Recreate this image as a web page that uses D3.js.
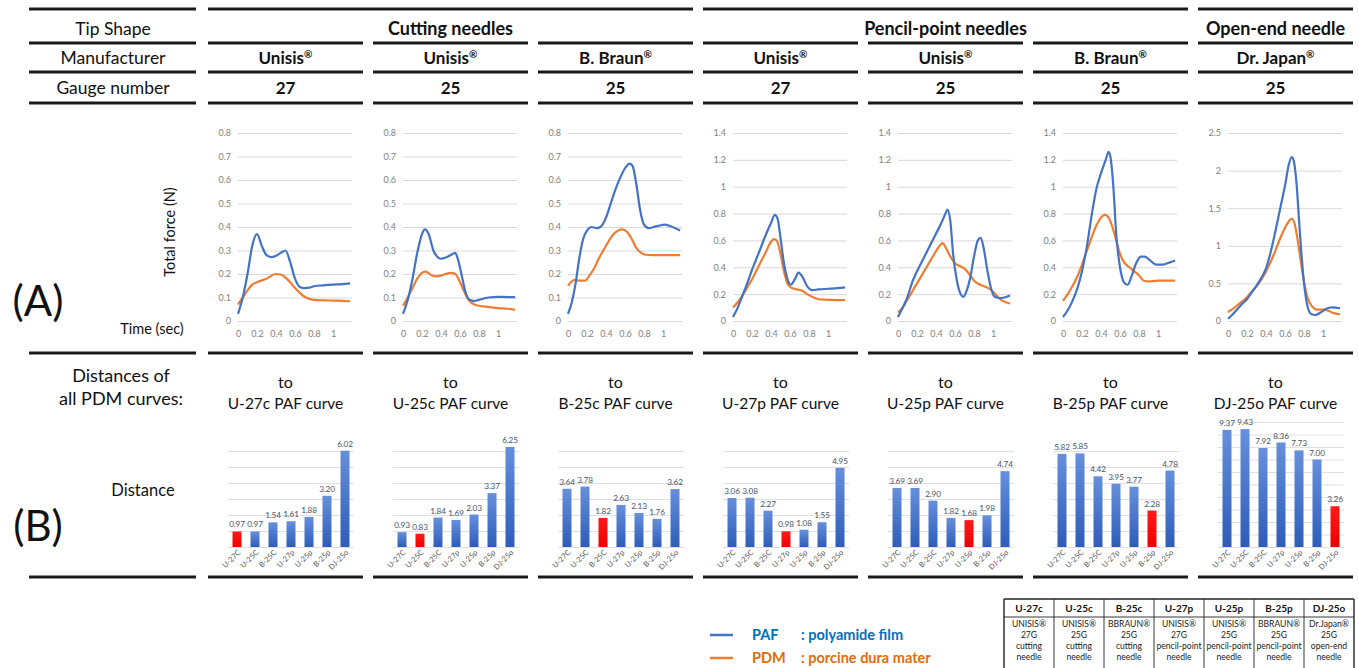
<!DOCTYPE html>
<html><head><meta charset="utf-8">
<script src="https://d3js.org/d3.v7.min.js"></script>
<style>
body{margin:0;background:#fff;}
svg{display:block;font-family:Lato,'Open Sans',sans-serif;}
</style>
</head><body>
<svg id="chart" width="1359" height="668"></svg>
<script>
// ---------------- DATA ----------------
const rowLabels = ["Tip Shape", "Manufacturer", "Gauge number"];
const tipShapes = ["Cutting needles", "Pencil-point needles", "Open-end needle"];
const tipSpans = [3, 3, 1];
const manufacturers = ["Unisis", "Unisis", "B. Braun", "Unisis", "Unisis", "B. Braun", "Dr. Japan"];
const gauges = ["27", "25", "25", "27", "25", "25", "25"];
const needleCodes = ["U-27c", "U-25c", "B-25c", "U-27p", "U-25p", "B-25p", "DJ-25o"];
const barCategories = ["U-27C", "U-25C", "B-25C", "U-27p", "U-25p", "B-25p", "DJ-25o"];

const lineYMax = [0.8, 0.8, 0.8, 1.4, 1.4, 1.4, 2.5];
const lineYTickCount = [8, 8, 8, 7, 7, 7, 5];
const lineXTicks = [0, 0.2, 0.4, 0.6, 0.8, 1];
const lineXMax = 1.2;

// PAF (polyamide film) curves: [time (s), force (N)]
const paf1 = [[0,0.03],[0.05,0.1],[0.1,0.2],[0.15,0.32],[0.2,0.37],[0.25,0.32],[0.3,0.28],[0.35,0.272],[0.4,0.278],[0.45,0.29],[0.5,0.30],[0.55,0.25],[0.6,0.18],[0.65,0.145],[0.7,0.14],[0.75,0.142],[0.8,0.148],[0.9,0.152],[1.0,0.155],[1.1,0.157],[1.18,0.16]];
const paf2 = [[0,0.03],[0.05,0.09],[0.1,0.18],[0.15,0.29],[0.2,0.37],[0.23,0.39],[0.27,0.37],[0.32,0.3],[0.37,0.27],[0.4,0.265],[0.45,0.27],[0.5,0.28],[0.55,0.29],[0.58,0.26],[0.62,0.19],[0.66,0.12],[0.7,0.09],[0.75,0.085],[0.8,0.09],[0.9,0.1],[1.0,0.103],[1.1,0.102],[1.18,0.102]];
const paf3 = [[0,0.03],[0.04,0.08],[0.08,0.16],[0.12,0.27],[0.16,0.35],[0.2,0.385],[0.25,0.4],[0.3,0.395],[0.34,0.4],[0.4,0.44],[0.45,0.5],[0.5,0.56],[0.55,0.61],[0.6,0.65],[0.65,0.67],[0.68,0.66],[0.72,0.58],[0.76,0.47],[0.8,0.41],[0.85,0.395],[0.9,0.4],[0.95,0.405],[1.02,0.41],[1.1,0.4],[1.18,0.385]];
const paf4 = [[0,0.03],[0.05,0.1],[0.1,0.19],[0.15,0.28],[0.2,0.38],[0.25,0.47],[0.3,0.56],[0.35,0.65],[0.4,0.73],[0.44,0.79],[0.47,0.76],[0.5,0.62],[0.53,0.46],[0.57,0.32],[0.61,0.27],[0.65,0.31],[0.69,0.36],[0.73,0.33],[0.78,0.26],[0.83,0.23],[0.9,0.235],[1.0,0.24],[1.1,0.245],[1.18,0.25]];
const paf5 = [[0,0.03],[0.05,0.1],[0.1,0.18],[0.15,0.29],[0.2,0.37],[0.25,0.44],[0.3,0.51],[0.35,0.58],[0.4,0.65],[0.45,0.72],[0.5,0.8],[0.52,0.83],[0.55,0.75],[0.58,0.5],[0.62,0.3],[0.66,0.2],[0.69,0.18],[0.72,0.22],[0.76,0.32],[0.8,0.48],[0.84,0.6],[0.87,0.62],[0.9,0.55],[0.94,0.38],[0.98,0.24],[1.02,0.18],[1.07,0.17],[1.12,0.175],[1.18,0.19]];
const paf6 = [[0,0.03],[0.05,0.08],[0.1,0.15],[0.15,0.24],[0.2,0.37],[0.25,0.55],[0.3,0.78],[0.35,0.98],[0.4,1.1],[0.45,1.2],[0.48,1.26],[0.5,1.22],[0.53,1.0],[0.56,0.65],[0.6,0.4],[0.64,0.29],[0.68,0.27],[0.72,0.33],[0.77,0.43],[0.82,0.48],[0.86,0.48],[0.92,0.45],[0.98,0.42],[1.05,0.42],[1.12,0.435],[1.18,0.45]];
const paf7 = [[0,0.03],[0.05,0.09],[0.1,0.16],[0.15,0.23],[0.2,0.29],[0.25,0.38],[0.3,0.47],[0.35,0.57],[0.4,0.7],[0.45,0.92],[0.5,1.2],[0.55,1.5],[0.6,1.8],[0.64,2.08],[0.67,2.18],[0.69,2.14],[0.72,1.85],[0.75,1.3],[0.78,0.78],[0.81,0.4],[0.84,0.18],[0.88,0.09],[0.92,0.08],[0.97,0.11],[1.03,0.16],[1.1,0.18],[1.18,0.17]];

// PDM (porcine dura mater) curves
const pdm1 = [[0,0.07],[0.05,0.1],[0.1,0.13],[0.15,0.155],[0.2,0.165],[0.3,0.18],[0.4,0.2],[0.45,0.198],[0.5,0.185],[0.55,0.165],[0.6,0.14],[0.65,0.12],[0.7,0.103],[0.8,0.09],[0.9,0.088],[1.0,0.087],[1.1,0.086],[1.18,0.084]];
const pdm2 = [[0,0.065],[0.05,0.1],[0.1,0.14],[0.15,0.18],[0.2,0.205],[0.24,0.21],[0.3,0.195],[0.35,0.19],[0.4,0.193],[0.45,0.2],[0.5,0.205],[0.55,0.2],[0.6,0.165],[0.65,0.12],[0.7,0.085],[0.75,0.07],[0.8,0.065],[0.9,0.06],[1.0,0.055],[1.1,0.052],[1.18,0.048]];
const pdm3 = [[0,0.15],[0.03,0.165],[0.07,0.175],[0.12,0.172],[0.18,0.172],[0.22,0.19],[0.27,0.22],[0.33,0.27],[0.4,0.32],[0.47,0.365],[0.53,0.385],[0.57,0.39],[0.62,0.38],[0.67,0.35],[0.72,0.31],[0.77,0.29],[0.82,0.282],[0.9,0.28],[1.0,0.28],[1.1,0.28],[1.18,0.28]];
const pdm4 = [[0,0.1],[0.05,0.14],[0.1,0.19],[0.15,0.25],[0.2,0.31],[0.25,0.38],[0.3,0.45],[0.35,0.52],[0.4,0.59],[0.43,0.61],[0.46,0.6],[0.5,0.5],[0.54,0.36],[0.58,0.27],[0.62,0.245],[0.68,0.235],[0.73,0.225],[0.78,0.2],[0.85,0.175],[0.92,0.16],[1.0,0.158],[1.1,0.155],[1.18,0.155]];
const pdm5 = [[0,0.065],[0.05,0.1],[0.1,0.16],[0.15,0.22],[0.2,0.28],[0.25,0.34],[0.3,0.4],[0.35,0.46],[0.4,0.52],[0.45,0.57],[0.47,0.58],[0.5,0.55],[0.55,0.48],[0.6,0.43],[0.65,0.41],[0.7,0.39],[0.75,0.35],[0.8,0.3],[0.85,0.275],[0.9,0.26],[0.95,0.245],[1.0,0.22],[1.05,0.18],[1.1,0.15],[1.18,0.13]];
const pdm6 = [[0,0.15],[0.05,0.2],[0.1,0.26],[0.15,0.33],[0.2,0.42],[0.25,0.52],[0.3,0.62],[0.35,0.71],[0.4,0.77],[0.44,0.79],[0.48,0.77],[0.52,0.7],[0.56,0.6],[0.6,0.5],[0.65,0.43],[0.7,0.4],[0.75,0.37],[0.8,0.34],[0.85,0.3],[0.9,0.295],[1.0,0.3],[1.1,0.3],[1.18,0.3]];
const pdm7 = [[0,0.12],[0.05,0.16],[0.1,0.21],[0.15,0.26],[0.2,0.32],[0.25,0.39],[0.3,0.46],[0.35,0.55],[0.4,0.66],[0.45,0.79],[0.5,0.94],[0.55,1.1],[0.6,1.24],[0.65,1.34],[0.67,1.36],[0.7,1.3],[0.73,1.1],[0.76,0.85],[0.8,0.52],[0.84,0.3],[0.88,0.2],[0.94,0.15],[1.0,0.15],[1.05,0.14],[1.1,0.11],[1.18,0.09]];

// Distances of all PDM curves to each PAF curve
const distU27c = [0.97, 0.97, 1.54, 1.61, 1.88, 3.20, 6.02];
const distU25c = [0.93, 0.83, 1.84, 1.69, 2.03, 3.37, 6.25];
const distB25c = [3.64, 3.78, 1.82, 2.63, 2.13, 1.76, 3.62];
const distU27p = [3.06, 3.08, 2.27, 0.98, 1.08, 1.55, 4.95];
const distU25p = [3.69, 3.69, 2.90, 1.82, 1.68, 1.98, 4.74];
const distB25p = [5.82, 5.85, 4.42, 3.95, 3.77, 2.28, 4.78];
const distDJ25o = [9.37, 9.43, 7.92, 8.36, 7.73, 7.00, 3.26];
const barAxisMax = [6, 6, 6, 6, 6, 6, 10];

const tableMakers = ["UNISIS®", "UNISIS®", "BBRAUN®", "UNISIS®", "UNISIS®", "BBRAUN®", "Dr.Japan®"];
const tableGauges = ["27G", "25G", "25G", "27G", "25G", "25G", "25G"];
const tableTypes = ["cutting", "cutting", "cutting", "pencil-point", "pencil-point", "pencil-point", "open-end"];
const tableLast = ["needle", "needle", "needle", "needle", "needle", "needle", "needle"];

const legendItems = [["PAF", "polyamide film"], ["PDM", "porcine dura mater"]];

// ---------------- DRAW ----------------
const pafSeries = [paf1, paf2, paf3, paf4, paf5, paf6, paf7];
const pdmSeries = [pdm1, pdm2, pdm3, pdm4, pdm5, pdm6, pdm7];
const distSeries = [distU27c, distU25c, distB25c, distU27p, distU25p, distB25p, distDJ25o];

const BLUE = "#4472C4", ORANGE = "#ED7D31";
const svg = d3.select("#chart");
const defs = svg.append("defs");
const gb = defs.append("linearGradient").attr("id","gBlue").attr("x1",0).attr("y1",0).attr("x2",0).attr("y2",1);
gb.append("stop").attr("offset","0%").attr("stop-color","#6690dc");
gb.append("stop").attr("offset","100%").attr("stop-color","#2e5cb8");
const gr = defs.append("linearGradient").attr("id","gRed").attr("x1",0).attr("y1",0).attr("x2",0).attr("y2",1);
gr.append("stop").attr("offset","0%").attr("stop-color","#ff1a1a");
gr.append("stop").attr("offset","100%").attr("stop-color","#f00000");

const colX = i => 208 + i * 165;
const colW = 155;
const leftX0 = 29, leftX1 = 196;
const ruleW = 3, ruleC = "#1a1a1a";

function rule(x0, x1, y) {
  svg.append("line").attr("x1", x0).attr("x2", x1).attr("y1", y).attr("y2", y)
    .attr("stroke", ruleC).attr("stroke-width", ruleW);
}
function regText(sel, name, size) {
  sel.text(name);
  sel.append("tspan").text("®").attr("font-size", size * 0.6).attr("dy", -size * 0.38);
}

// header rules
rule(leftX0, leftX1, 9);
let start = 0;
tipShapes.forEach((t, k) => {
  const a = colX(start), b = colX(start + tipSpans[k] - 1) + colW;
  rule(a, b, 9);
  svg.append("text").attr("x", (a + b) / 2).attr("y", 35).attr("text-anchor", "middle")
    .attr("font-size", 18).attr("font-weight", 700).attr("fill", "#111").text(t);
  start += tipSpans[k];
});
[43, 72, 103, 353, 577].forEach(y => {
  rule(leftX0, leftX1, y);
  for (let i = 0; i < 7; i++) rule(colX(i), colX(i) + colW, y);
});
rowLabels.forEach((r, k) => {
  svg.append("text").attr("x", 113).attr("y", [35, 64, 94][k]).attr("text-anchor", "middle")
    .attr("font-size", 17.5).attr("fill", "#111").text(r);
});
manufacturers.forEach((m, i) => {
  const t = svg.append("text").attr("x", colX(i) + colW / 2).attr("y", 64).attr("text-anchor", "middle")
    .attr("font-size", 17).attr("font-weight", 700).attr("fill", "#111");
  regText(t, m, 17);
});
gauges.forEach((g, i) => {
  svg.append("text").attr("x", colX(i) + colW / 2).attr("y", 94).attr("text-anchor", "middle")
    .attr("font-size", 17).attr("font-weight", 700).attr("fill", "#111").text(g);
});

// Section A labels
svg.append("text").attr("x", 38).attr("y", 316).attr("text-anchor", "middle").attr("font-size", 42).attr("fill", "#111").text("(A)");
svg.append("text").attr("transform", "translate(175,232) rotate(-90)").attr("text-anchor", "middle")
  .attr("font-size", 14.5).attr("fill", "#111").text("Total force (N)");
svg.append("text").attr("x", 152).attr("y", 334).attr("text-anchor", "middle").attr("font-size", 14.5).attr("fill", "#111").text("Time (sec)");

// line charts
const lineTop = 133, lineBot = 321;
for (let i = 0; i < 7; i++) {
  const x0 = colX(i) + 30, w = 114;
  const xs = d3.scaleLinear().domain([0, lineXMax]).range([x0, x0 + w]);
  const ys = d3.scaleLinear().domain([0, lineYMax[i]]).range([lineBot, lineTop]);
  const g = svg.append("g");
  const ya = g.append("g").attr("transform", `translate(${x0},0)`)
    .call(d3.axisLeft(ys).ticks(lineYTickCount[i]).tickSize(-w).tickPadding(7).tickFormat(d3.format("~g")));
  ya.select(".domain").remove();
  ya.selectAll("line").attr("stroke", "#d9d9d9");
  ya.selectAll("text").attr("fill", "#7f7f7f").attr("font-size", 9).attr("font-family", "Lato,sans-serif");
  const xa = g.append("g").attr("transform", `translate(0,${lineBot})`)
    .call(d3.axisBottom(xs).tickValues(lineXTicks).tickSize(0).tickPadding(10).tickFormat(d3.format("~g")));
  xa.select(".domain").remove();
  xa.selectAll("text").attr("fill", "#7f7f7f").attr("font-size", 9).attr("font-family", "Lato,sans-serif");
  const line = d3.line().x(d => xs(d[0])).y(d => ys(d[1])).curve(d3.curveMonotoneX);
  g.append("path").datum(pdmSeries[i]).attr("d", line).attr("fill", "none").attr("stroke", ORANGE).attr("stroke-width", 2.2);
  g.append("path").datum(pafSeries[i]).attr("d", line).attr("fill", "none").attr("stroke", BLUE).attr("stroke-width", 2.2);
}

// Section B labels
svg.append("text").attr("x", 121).attr("y", 382).attr("text-anchor", "middle").attr("font-size", 18).attr("fill", "#111").text("Distances of");
svg.append("text").attr("x", 121).attr("y", 405).attr("text-anchor", "middle").attr("font-size", 18).attr("fill", "#111").text("all PDM curves:");
svg.append("text").attr("x", 143).attr("y", 496).attr("text-anchor", "middle").attr("font-size", 16.5).attr("fill", "#111").text("Distance");
svg.append("text").attr("x", 38).attr("y", 541).attr("text-anchor", "middle").attr("font-size", 42).attr("fill", "#111").text("(B)");
needleCodes.forEach((c, i) => {
  svg.append("text").attr("x", colX(i) + colW / 2).attr("y", 388).attr("text-anchor", "middle").attr("font-size", 16).attr("fill", "#111").text("to");
  svg.append("text").attr("x", colX(i) + colW / 2).attr("y", 409).attr("text-anchor", "middle").attr("font-size", 15.5).attr("fill", "#111").text(c + " PAF curve");
});

// bar charts
const barBase = 547;
for (let i = 0; i < 7; i++) {
  const x0 = colX(i) + 20, w = 126;
  const xb = d3.scaleBand().domain(barCategories).range([x0, x0 + w]).paddingInner(0.5).paddingOuter(0.25);
  const top = i < 6 ? 451 : 422;
  const yb = d3.scaleLinear().domain([0, barAxisMax[i]]).range([barBase, top]);
  const g = svg.append("g");
  const ya = g.append("g").attr("transform", `translate(${x0},0)`)
    .call(d3.axisLeft(yb).ticks(barAxisMax[i]).tickSize(-w).tickFormat(""));
  ya.select(".domain").remove();
  ya.selectAll("line").attr("stroke", "#e0e0e0");
  const data = distSeries[i].map((v, k) => ({ k, v, c: barCategories[k] }));
  g.selectAll("rect.bar").data(data).join("rect").attr("class", "bar")
    .attr("x", d => xb(d.c)).attr("width", xb.bandwidth())
    .attr("y", d => yb(d.v)).attr("height", d => barBase - yb(d.v))
    .attr("fill", d => d.k === i ? "url(#gRed)" : "url(#gBlue)");
  g.selectAll("text.val").data(data).join("text").attr("class", "val")
    .attr("x", d => xb(d.c) + xb.bandwidth() / 2).attr("y", d => yb(d.v) - 4)
    .attr("text-anchor", "middle").attr("font-size", 8.2).attr("letter-spacing", -0.2)
    .attr("fill", "#44546a").text(d => d.v.toFixed(2));
  const xa = g.append("g").attr("transform", `translate(0,${barBase})`)
    .call(d3.axisBottom(xb).tickSize(0).tickPadding(0));
  xa.select(".domain").remove();
  xa.selectAll("text").attr("font-size", 7.5).attr("fill", "#595959").attr("font-family", "Lato,sans-serif")
    .attr("text-anchor", "end").attr("dy", 0)
    .attr("transform", "translate(4,6) rotate(-45)");
}

// legend
legendItems.forEach((it, k) => {
  const y = 635 + k * 23;
  const col = k === 0 ? BLUE : ORANGE;
  const tcol = k === 0 ? "#0070C0" : "#E36C09";
  svg.append("line").attr("x1", 710).attr("x2", 733).attr("y1", y).attr("y2", y).attr("stroke", col).attr("stroke-width", 2.5);
  svg.append("text").attr("x", 752).attr("y", y + 5).attr("font-size", 14.5).attr("font-weight", 700).attr("fill", tcol).text(it[0]);
  svg.append("text").attr("x", 801).attr("y", y + 5).attr("font-size", 14.5).attr("font-weight", 700).attr("fill", tcol).text(":  " + it[1]);
});

// table
const tx0 = 1004, tcw = 50, ty0 = 599, thh = 18;
const tg = svg.append("g");
needleCodes.forEach((c, j) => {
  const cx = tx0 + j * tcw + tcw / 2;
  tg.append("text").attr("x", cx).attr("y", ty0 + 13).attr("text-anchor", "middle").attr("font-size", 10).attr("font-weight", 700).attr("fill", "#111").text(c);
  [tableMakers[j], tableGauges[j], tableTypes[j], tableLast[j]].forEach((s, r) => {
    tg.append("text").attr("x", cx).attr("y", ty0 + thh + 10 + r * 11).attr("text-anchor", "middle").attr("font-size", 8.6).attr("fill", "#222").text(s);
  });
});
for (let j = 0; j <= 7; j++) {
  tg.append("line").attr("x1", tx0 + j * tcw).attr("x2", tx0 + j * tcw).attr("y1", ty0).attr("y2", 670)
    .attr("stroke", "#222").attr("stroke-width", (j === 0 || j === 7) ? 1.4 : 0.9);
}
tg.append("line").attr("x1", tx0).attr("x2", tx0 + 7 * tcw).attr("y1", ty0).attr("y2", ty0).attr("stroke", "#222").attr("stroke-width", 1.4);
tg.append("line").attr("x1", tx0).attr("x2", tx0 + 7 * tcw).attr("y1", ty0 + thh).attr("y2", ty0 + thh).attr("stroke", "#222").attr("stroke-width", 0.9);
</script>
</body></html>
